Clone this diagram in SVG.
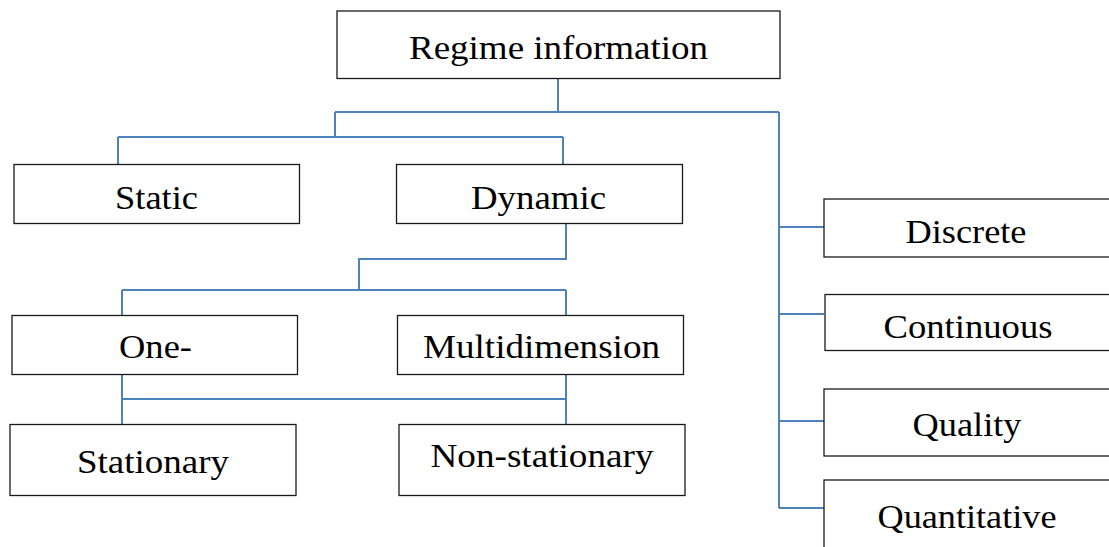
<svg xmlns="http://www.w3.org/2000/svg" width="1109" height="547" viewBox="0 0 1109 547">
<style>
.box{fill:#fff;stroke:#1a1a1a;stroke-width:1.3}
.lbl{font-family:"Liberation Serif","Times New Roman",serif;font-size:33px;fill:#000;text-anchor:middle}
.con{fill:none;stroke:#4f81bd;stroke-width:2}
</style>
<rect width="1109" height="547" fill="#fff"/>
<g id="connectors" class="con">
<path d="M558 79V112M335 112H779M335 112V137M118 137H563M118 137V164M563 137V164"/>
<path d="M566 224V259H359V290M122 290H566M122 290V315M566 290V315"/>
<path d="M122 374V424M566 374V424M122 399H566"/>
<path d="M779 112V508M779 227H824M779 314H824M779 421H824M779 508H824"/>
</g>
<g id="n-regime"><rect class="box" x="337" y="11" width="443" height="67.5"/><text class="lbl" x="558.5" y="59" textLength="299" lengthAdjust="spacingAndGlyphs">Regime information</text></g>
<g id="n-static"><rect class="box" x="14" y="164.5" width="285.5" height="59"/><text class="lbl" x="156.5" y="208.5" textLength="83" lengthAdjust="spacingAndGlyphs">Static</text></g>
<g id="n-dynamic"><rect class="box" x="396.5" y="164.5" width="286" height="59"/><text class="lbl" x="538.5" y="208.5" textLength="135" lengthAdjust="spacingAndGlyphs">Dynamic</text></g>
<g id="n-one"><rect class="box" x="12" y="315.5" width="285.5" height="59"/><text class="lbl" x="155.5" y="358" textLength="73" lengthAdjust="spacingAndGlyphs">One-</text></g>
<g id="n-multi"><rect class="box" x="397.5" y="315.5" width="286" height="59"/><text class="lbl" x="541.5" y="358" textLength="237" lengthAdjust="spacingAndGlyphs">Multidimension</text></g>
<g id="n-stationary"><rect class="box" x="10" y="424.5" width="286" height="71"/><text class="lbl" x="153" y="473" textLength="152" lengthAdjust="spacingAndGlyphs">Stationary</text></g>
<g id="n-nonstationary"><rect class="box" x="399" y="424.5" width="286" height="71"/><text class="lbl" x="542" y="467" textLength="223" lengthAdjust="spacingAndGlyphs">Non-stationary</text></g>
<g id="n-discrete"><rect class="box" x="824" y="199" width="300" height="58"/><text class="lbl" x="966" y="243" textLength="121" lengthAdjust="spacingAndGlyphs">Discrete</text></g>
<g id="n-continuous"><rect class="box" x="825" y="294.5" width="300" height="56"/><text class="lbl" x="968" y="338" textLength="169" lengthAdjust="spacingAndGlyphs">Continuous</text></g>
<g id="n-quality"><rect class="box" x="824" y="389" width="300" height="67"/><text class="lbl" x="967" y="436" textLength="109" lengthAdjust="spacingAndGlyphs">Quality</text></g>
<g id="n-quantitative"><rect class="box" x="824" y="480" width="300" height="80"/><text class="lbl" x="967" y="528" textLength="179" lengthAdjust="spacingAndGlyphs">Quantitative</text></g>
</svg>
